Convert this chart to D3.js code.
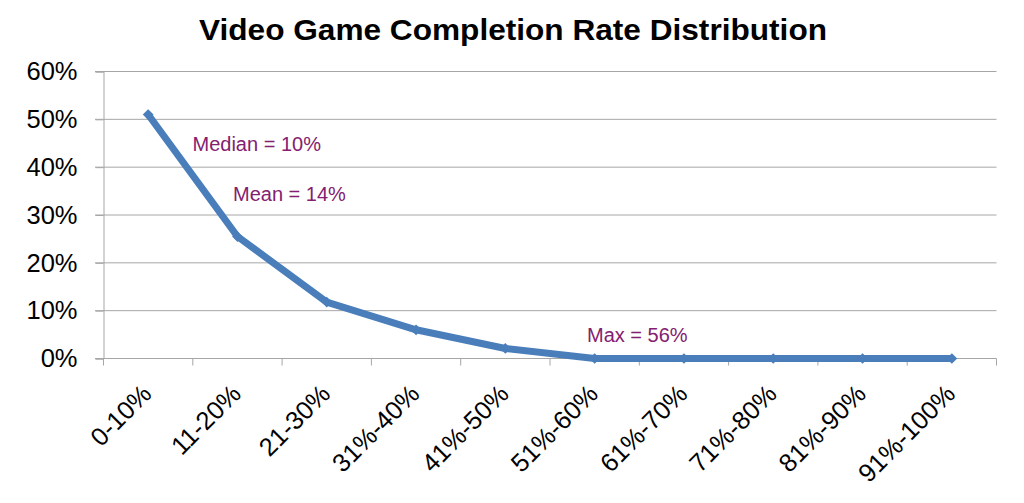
<!DOCTYPE html>
<html><head><meta charset="utf-8">
<script src="https://cdnjs.cloudflare.com/ajax/libs/d3/7.8.5/d3.min.js"></script>
<style>body{margin:0;background:#fff}svg{display:block}</style>
</head><body>
<svg id="chart" width="1024" height="503"></svg>
<script>
const categories = ["0-10%","11-20%","21-30%","31%-40%","41%-50%","51%-60%","61%-70%","71%-80%","81%-90%","91%-100%"];
const values = [0.51, 0.255, 0.118, 0.06, 0.021, 0, 0, 0, 0, 0];
const yTicks = [0, 0.1, 0.2, 0.3, 0.4, 0.5, 0.6];
const annotations = [
  {text: "Median = 10%", x: 192.5, y: 151},
  {text: "Mean = 14%", x: 233, y: 201},
  {text: "Max = 56%", x: 587, y: 341.5}
];
const title = "Video Game Completion Rate Distribution";

const svg = d3.select("#chart");
const mLeft = 103.5, mRight = 996.5, mTop = 71.5, mBottom = 358.5;
const x = d3.scaleBand().domain(categories).range([mLeft, mRight]);
const y = d3.scaleLinear().domain([0, 0.6]).range([mBottom, mTop]);
const font = "Arial, 'Liberation Sans', sans-serif";

svg.append("text").attr("x", 513).attr("y", 40).attr("text-anchor", "middle")
  .attr("font-family", font).attr("font-weight", "bold").attr("font-size", 29.5)
  .attr("textLength", 628).attr("lengthAdjust", "spacingAndGlyphs")
  .attr("fill", "#000").text(title);

// gridlines
svg.append("g").selectAll("line").data(yTicks.filter(d => d > 0)).join("line")
  .attr("x1", 95).attr("x2", mRight).attr("y1", d => y(d)).attr("y2", d => y(d))
  .attr("stroke", "#a6a6a6").attr("stroke-width", 1);

// y axis
const yAxis = d3.axisLeft(y).tickValues(yTicks).tickFormat(d3.format(".0%")).tickSize(8).tickPadding(18);
const gy = svg.append("g").attr("transform", `translate(${mLeft},0)`).call(yAxis);
gy.selectAll("path,line").attr("stroke", "#a6a6a6");
gy.selectAll("text").attr("font-family", font).attr("font-size", 25.5).attr("fill", "#000");

// x axis
const gx = svg.append("g").attr("transform", `translate(0,${mBottom})`);
gx.append("line").attr("x1", 95).attr("x2", mRight).attr("y1", 0).attr("y2", 0).attr("stroke", "#a6a6a6");
const bounds = categories.map(c => x(c)).concat([mRight]);
gx.selectAll(".tk").data(bounds).join("line").attr("class", "tk")
  .attr("x1", d => d).attr("x2", d => d).attr("y1", 0).attr("y2", 7).attr("stroke", "#a6a6a6");
gx.selectAll(".lbl").data(categories).join("text").attr("class", "lbl")
  .attr("text-anchor", "end")
  .attr("transform", d => `translate(${x(d) + x.bandwidth()/2 + 5},${37}) rotate(-45)`)
  .attr("font-family", font).attr("font-size", 25.5).attr("fill", "#000")
  .text(d => d);

// line
const line = d3.line().x((d, i) => x(categories[i]) + x.bandwidth()/2).y(d => y(d));
svg.append("path").datum(values).attr("d", line).attr("fill", "none")
  .attr("stroke", "#4a7ebb").attr("stroke-width", 7).attr("stroke-linejoin", "round");

svg.append("g").selectAll("path").data(values).join("path")
  .attr("transform", (d, i) => `translate(${x(categories[i]) + x.bandwidth()/2},${y(d)}) rotate(45)`)
  .attr("d", "M-3.8,-3.8H3.8V3.8H-3.8Z").attr("fill", "#4a7ebb");

svg.append("g").selectAll("text").data(annotations).join("text")
  .attr("x", d => d.x).attr("y", d => d.y)
  .attr("font-family", font).attr("font-size", 20).attr("fill", "#84206f")
  .text(d => d.text);
</script>
</body></html>
